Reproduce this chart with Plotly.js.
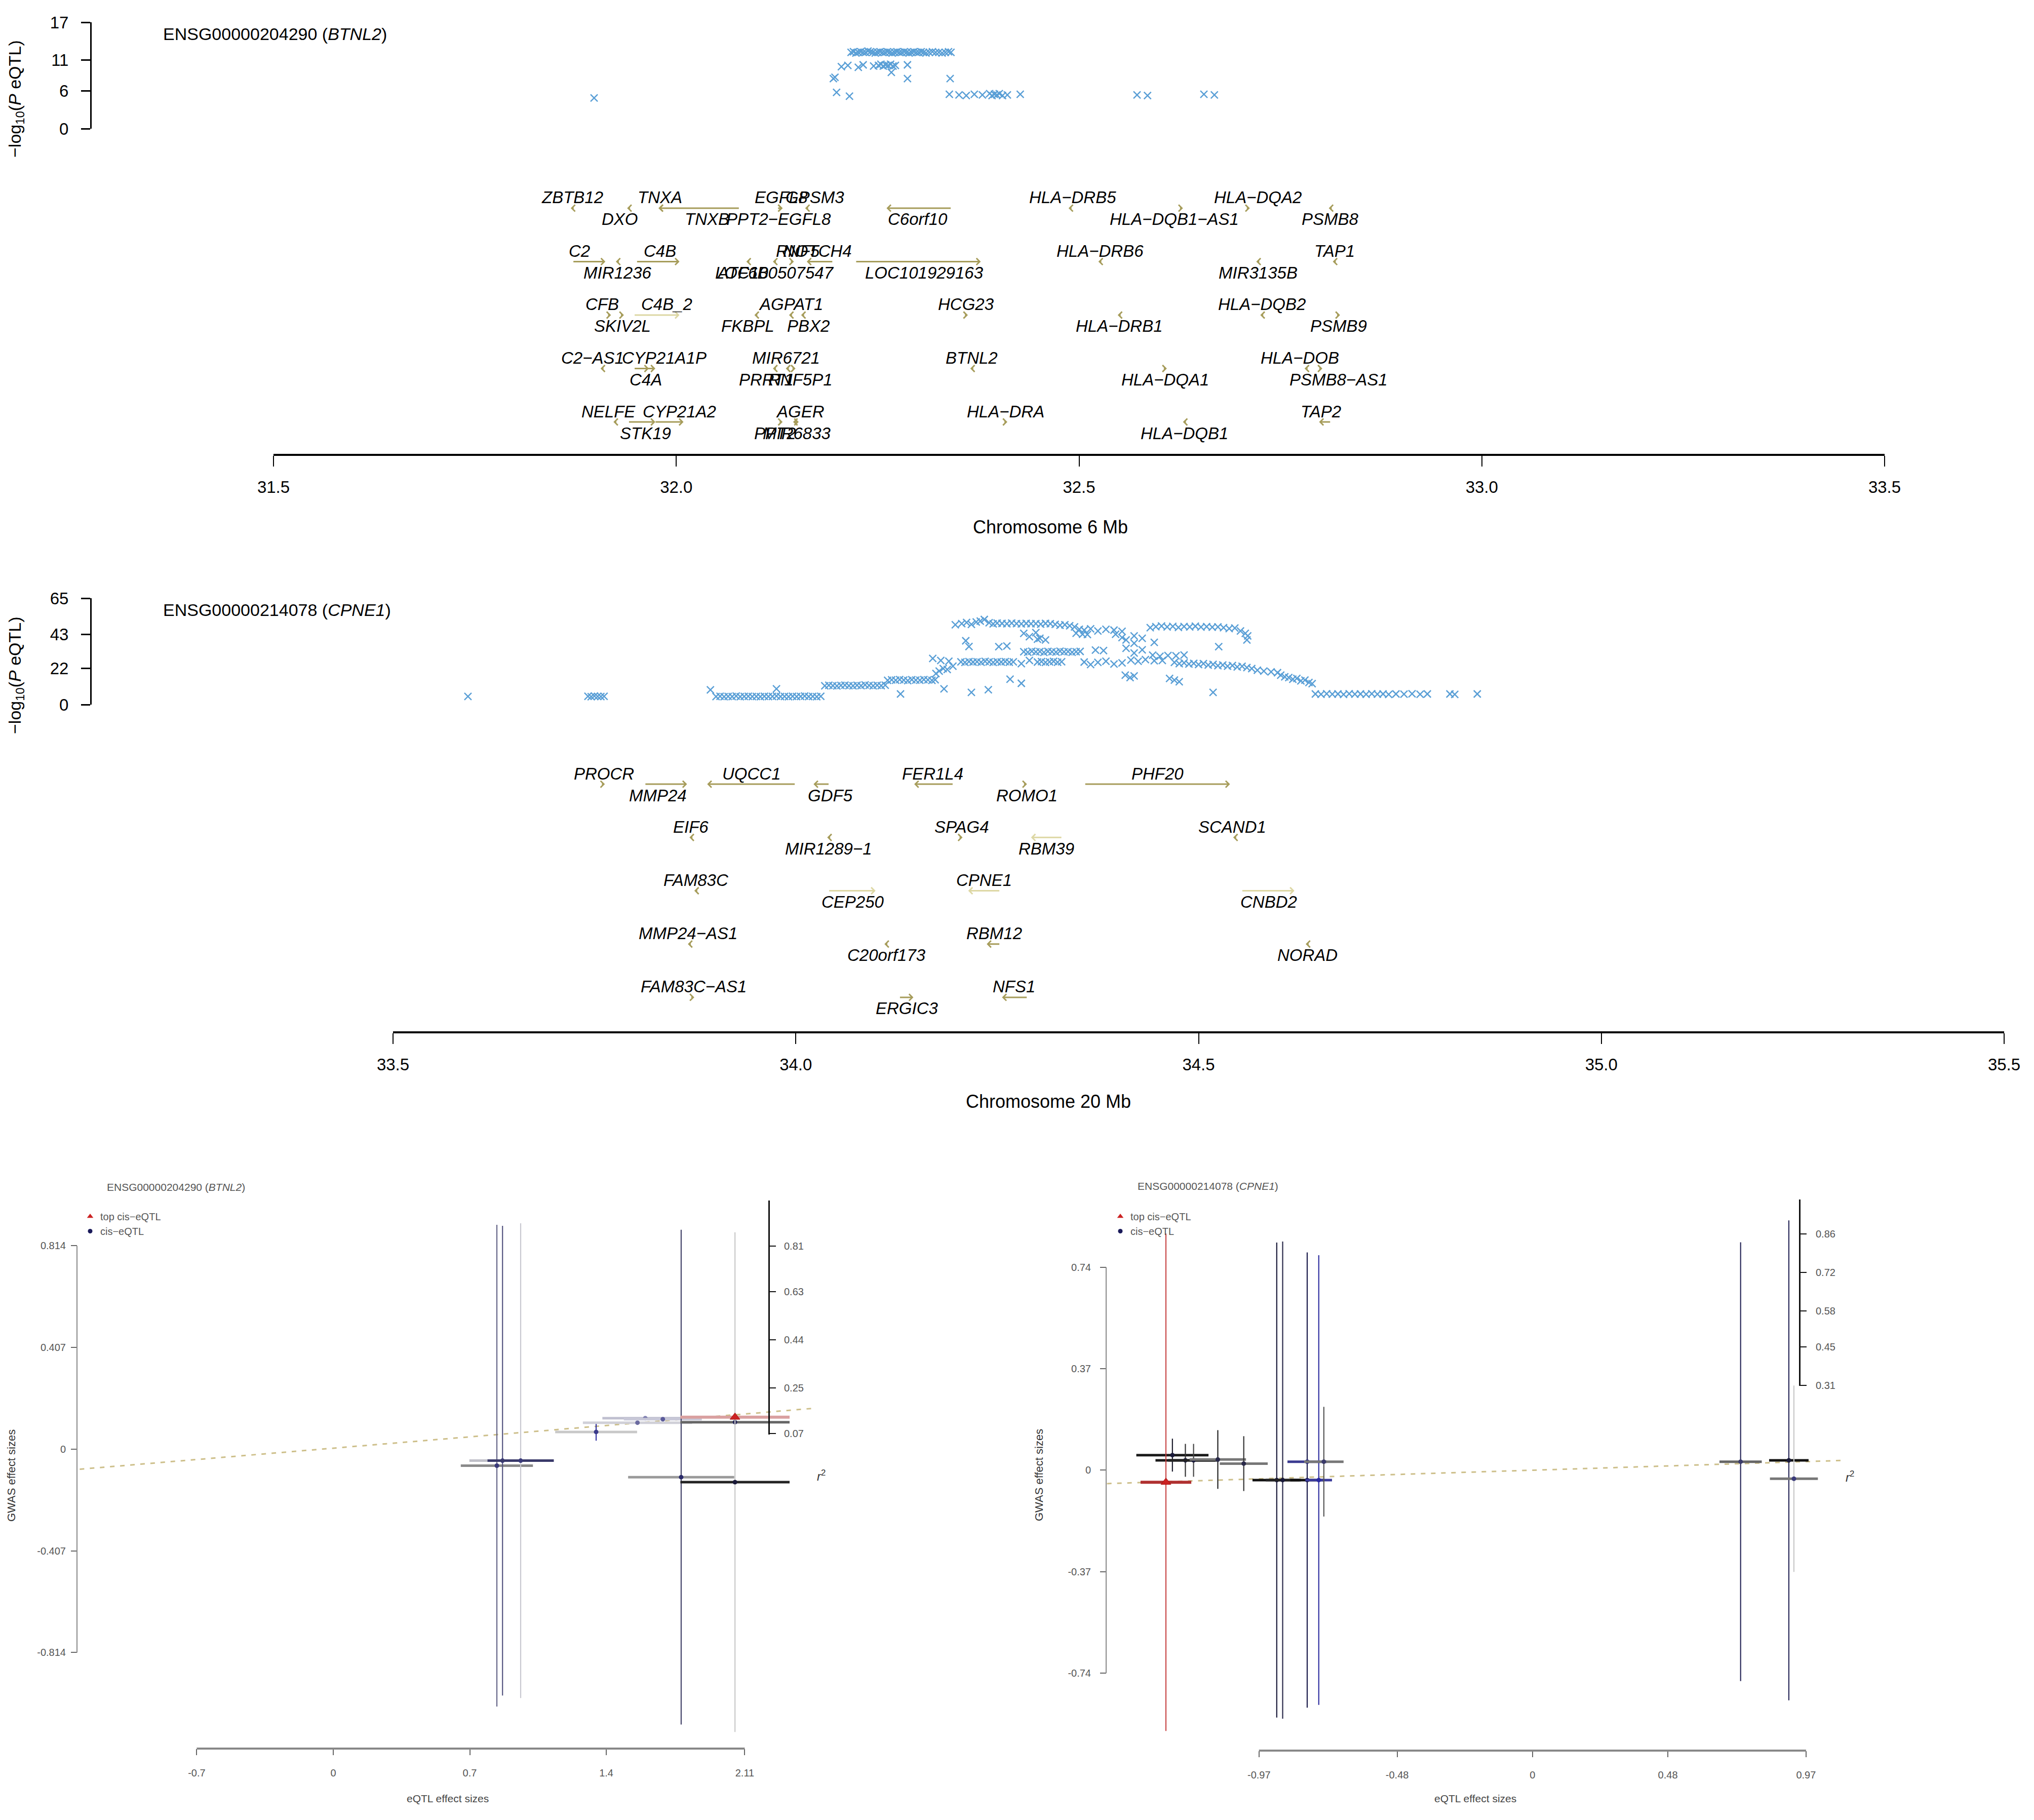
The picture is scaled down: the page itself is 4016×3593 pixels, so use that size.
<!DOCTYPE html>
<html><head><meta charset="utf-8">
<script src="https://cdn.plot.ly/plotly-3.0.1.min.js"></script>
<style>html,body{margin:0;padding:0;background:#fff;}#plot{width:4016px;height:3593px;}</style>
</head><body><div id="plot"></div>
<script>
// ================= DATA =================
// Panel 1: chr6, ENSG00000204290 (BTNL2) eQTL SNPs
const p1_gene_id = 'ENSG00000204290', p1_gene_sym = 'BTNL2';
const p1_mb = [31.898,
 32.217,32.220,32.223,32.226,32.229,32.232,32.235,32.238,32.241,32.244,32.247,32.250,32.253,32.256,32.259,32.262,32.265,32.268,32.271,32.274,32.277,32.280,32.283,32.286,32.289,32.292,32.295,32.298,32.301,32.304,32.307,32.310,32.314,32.318,32.322,32.326,32.330,32.334,32.338,32.341,
 32.205,32.213,32.226,32.232,32.245,32.251,32.254,32.257,32.260,32.263,32.266,32.269,32.272,32.287,
 32.267,
 32.195,32.197,32.287,32.340,
 32.199,32.215,
 32.339,32.351,32.360,32.370,32.380,32.389,32.392,32.395,32.398,32.401,32.405,32.411,32.427,
 32.572,32.585,32.655,32.668];
const p1_logp = [4.9,
 12.2,12.3,12.1,12.2,12.3,12.2,12.2,12.4,12.3,12.2,12.1,12.2,12.3,12.2,12.2,12.3,12.2,12.1,12.2,12.3,12.2,12.2,12.3,12.2,12.1,12.2,12.3,12.2,12.2,12.3,12.2,12.1,12.2,12.3,12.2,12.2,12.1,12.2,12.3,12.2,
 9.9,10.1,9.8,10.2,10.0,10.1,10.3,10.0,10.2,10.1,10.3,10.0,10.1,10.2,
 9.0,
 8.0,8.2,8.0,8.0,
 5.8,5.2,
 5.5,5.4,5.3,5.5,5.4,5.6,5.3,5.5,5.4,5.6,5.3,5.4,5.5,
 5.4,5.3,5.5,5.4];
const p1_yticks = [0, 6, 11, 17];
const p1_xticks = [31.5, 32.0, 32.5, 33.0, 33.5];
const p1_xticktext = ['31.5','32.0','32.5','33.0','33.5'];

// Panel 1 genes
const g1_name = ['ZBTB12','DXO','TNXA','TNXB','EGFL8','GPSM3','PPT2−EGFL8','C6orf10','HLA−DRB5','HLA−DQB1−AS1','HLA−DQA2','PSMB8',
 'C2','MIR1236','C4B','ATF6B','LOC100507547','RNF5','NOTCH4','LOC101929163','HLA−DRB6','MIR3135B','TAP1',
 'CFB','SKIV2L','C4B_2','FKBPL','AGPAT1','PBX2','HCG23','HLA−DRB1','HLA−DQB2','PSMB9',
 'C2−AS1','CYP21A1P','C4A','MIR6721','PRRT1','RNF5P1','BTNL2','HLA−DQA1','HLA−DOB','PSMB8−AS1',
 'NELFE','STK19','CYP21A2','AGER','PPT2','MIR6833','HLA−DRA','HLA−DQB1','TAP2'];
const g1_start = [31.869,31.939,31.978,31.978,32.128,32.160,32.126,32.261,32.487,32.625,32.708,32.810,
 31.872,31.925,31.951,32.087,32.120,32.142,32.162,32.223,32.524,32.720,32.815,
 31.915,31.931,31.948,32.097,32.140,32.155,32.358,32.548,32.725,32.820,
 31.906,31.962,31.948,32.120,32.136,32.144,32.365,32.605,32.780,32.798,
 31.922,31.941,31.974,32.148,32.128,32.145,32.407,32.629,32.798];
const g1_end = [31.873,31.943,31.982,32.078,32.132,32.164,32.132,32.341,32.491,32.629,32.712,32.814,
 31.912,31.929,32.004,32.091,32.124,32.146,32.194,32.378,32.528,32.724,32.819,
 31.919,31.935,32.004,32.101,32.144,32.159,32.362,32.552,32.729,32.824,
 31.910,31.974,31.966,32.124,32.140,32.148,32.369,32.609,32.784,32.802,
 31.926,31.974,32.009,32.152,32.132,32.149,32.411,32.633,32.812];
const g1_strand = ['-','-','-','-','+','-','+','-','-','+','+','-',
 '+','-','+','-','-','+','-','+','-','-','-',
 '+','+','+','-','-','-','+','-','-','+',
 '-','+','+','-','-','+','-','+','-','+',
 '-','+','+','+','+','-','+','-','-'];
const g1_row = [1,1,1,1,1,1,1,1,1,1,1,1, 2,2,2,2,2,2,2,2,2,2,2, 3,3,3,3,3,3,3,3,3,3, 4,4,4,4,4,4,4,4,4,4, 5,5,5,5,5,5,5,5,5];
const g1_side = ['a','b','a','b','a','a','b','b','a','b','a','b',
 'a','b','a','b','b','a','a','b','a','b','a',
 'a','b','a','b','a','b','a','b','a','b',
 'a','a','b','a','b','b','a','b','a','b',
 'a','b','a','a','b','b','a','b','a'];
const g1_labx = [31.871,31.930,31.980,32.038,32.130,32.172,32.127,32.300,32.492,32.618,32.722,32.812,
 31.880,31.927,31.980,32.082,32.122,32.151,32.175,32.308,32.526,32.722,32.817,
 31.908,31.933,31.988,32.089,32.142,32.164,32.360,32.550,32.727,32.822,
 31.896,31.985,31.962,32.136,32.112,32.154,32.367,32.607,32.774,32.822,
 31.916,31.962,32.004,32.154,32.123,32.150,32.409,32.631,32.800];

// Panel 2: chr20, ENSG00000214078 (CPNE1) eQTL SNPs
const p2_gene_id = 'ENSG00000214078', p2_gene_sym = 'CPNE1';
const p2_mb = [
 33.593,33.742,33.746,33.750,33.754,33.758,33.762,
 33.894,
 33.901,33.906,33.911,33.916,33.921,33.926,33.931,33.936,33.941,33.946,33.951,33.956,33.961,33.966,33.971,33.976,33.981,33.986,33.991,33.996,34.001,34.006,34.011,34.016,34.021,34.026,34.031,
 33.976,
 34.036,34.041,34.046,34.051,34.056,34.061,34.066,34.071,34.076,34.081,34.086,34.091,34.096,34.101,34.106,34.111,
 34.114,34.119,34.124,34.129,34.134,34.139,34.144,34.149,34.154,34.159,34.164,34.169,34.173,
 34.130,34.184,34.218,34.239,34.518,
 34.174,34.178,34.183,34.188,34.195,
 34.198,34.206,34.212,34.218,34.224,34.229,34.234,34.240,34.245,34.250,34.256,34.262,34.268,34.274,34.280,34.286,34.292,34.298,34.304,34.310,34.316,34.322,34.328,34.334,34.340,34.346,
 34.352,34.358,34.366,34.375,34.385,34.395,34.405,
 34.440,34.447,34.454,34.461,34.468,34.475,34.482,34.489,34.496,34.503,34.510,34.517,34.524,34.531,34.538,34.545,34.552,34.558,34.561,
 34.283,34.290,34.298,34.303,34.348,34.356,34.362,34.397,34.405,34.420,34.430,
 34.211,34.215,34.252,34.262,34.300,34.310,34.410,34.420,34.445,34.525,34.560,
 34.283,34.288,34.293,34.298,34.303,34.308,34.313,34.318,34.323,34.328,34.333,34.338,34.343,34.348,34.353,
 34.372,34.382,34.410,34.420,34.430,34.443,34.452,34.462,34.472,34.482,
 34.170,34.180,34.190,
 34.205,34.210,34.215,34.220,34.225,34.230,34.235,34.240,34.245,34.250,34.255,34.260,34.265,34.270,
 34.280,34.290,
 34.300,34.305,34.310,34.315,34.320,34.325,34.330,
 34.358,34.366,34.375,34.385,34.395,34.405,
 34.416,34.425,34.434,34.445,34.455,
 34.470,34.476,34.482,34.488,34.494,34.500,34.506,34.512,34.518,34.524,34.530,34.536,34.542,34.548,34.554,34.560,34.566,
 34.573,34.581,34.590,34.598,
 34.602,34.607,34.612,34.617,34.622,34.627,34.632,34.637,34.641,
 34.409,34.415,34.420,34.464,34.470,34.476,34.266,34.280,
 34.645,34.652,34.659,34.666,34.673,34.680,34.687,34.694,34.701,34.708,34.715,34.722,34.729,34.736,34.745,34.755,34.765,34.775,34.784,34.812,34.818,34.846];
const p2_logp = [
 5.0,5.1,4.8,5.2,5.0,4.9,5.1,
 9.0,
 4.9,5.1,4.8,5.0,4.9,5.2,4.8,5.0,5.1,4.9,5.0,4.8,5.1,4.9,5.0,5.2,4.9,5.0,4.8,5.1,4.9,5.0,5.2,4.9,5.0,4.8,5.1,
 9.6,
 11.5,11.8,11.6,11.4,11.7,11.9,11.6,11.5,11.8,11.6,12.0,11.7,11.5,11.8,11.6,11.9,
 14.8,15.1,14.9,15.3,15.0,14.7,15.2,15.0,14.9,15.3,15.1,14.8,15.2,
 6.5,9.6,7.5,9.1,7.5,
 19.0,20.5,22.0,21.5,23.5,
 48.8,49.5,50.2,49.0,50.5,51.0,52.0,50.0,49.3,49.8,49.6,49.4,49.8,49.5,49.3,49.6,49.4,49.5,49.2,49.6,49.4,49.0,48.5,48.8,48.2,47.5,
 46.0,45.5,46.3,45.0,46.0,45.5,44.8,
 47.0,47.6,48.0,47.5,47.8,47.2,47.7,47.5,47.9,47.4,47.6,47.3,47.5,47.0,46.5,46.8,45.0,43.5,42.0,
 43.5,41.5,44.0,40.5,43.6,43.0,42.8,43.0,41.0,42.0,40.5,
 39.0,35.5,35.4,35.8,40.0,39.5,39.5,37.5,38.0,35.4,39.5,
 32.3,32.0,32.6,32.2,32.4,31.9,32.5,32.3,32.1,32.6,32.2,32.4,32.0,32.3,32.5,
 33.3,33.0,34.4,31.5,33.5,30.2,29.5,30.0,29.8,30.3,
 28.2,27.0,26.5,
 26.1,25.8,26.3,26.0,26.2,25.9,26.4,26.1,25.8,26.2,26.0,26.3,25.9,26.1,
 25.0,27.0,
 26.0,26.3,25.8,26.1,26.4,25.9,26.2,
 26.0,24.5,25.8,26.5,24.8,25.5,
 27.2,26.5,27.5,26.8,27.0,
 25.8,25.0,25.5,24.8,25.2,24.5,25.0,24.2,24.6,23.8,24.2,23.5,23.9,23.0,23.4,22.6,22.0,
 21.0,20.5,20.0,19.5,
 18.0,17.0,16.5,15.5,16.0,14.5,15.0,13.5,12.8,
 18.0,16.5,17.5,16.0,15.0,14.0,15.5,13.0,
 6.5,6.3,6.6,6.4,6.5,6.2,6.6,6.4,6.5,6.3,6.6,6.4,6.5,6.2,6.5,6.4,6.6,6.3,6.5,6.5,6.2,6.5];
const p2_yticks = [0, 22, 43, 65];
const p2_xticks = [33.5, 34.0, 34.5, 35.0, 35.5];
const p2_xticktext = ['33.5','34.0','34.5','35.0','35.5'];

// Panel 2 genes
const g2_name = ['PROCR','MMP24','UQCC1','GDF5','FER1L4','ROMO1','PHF20',
 'EIF6','MIR1289−1','SPAG4','RBM39','SCAND1',
 'FAM83C','CEP250','CPNE1','CNBD2',
 'MMP24−AS1','C20orf173','RBM12','NORAD',
 'FAM83C−AS1','ERGIC3','NFS1'];
const g2_start = [33.759,33.813,33.890,34.022,34.147,34.283,34.359,
 33.868,34.039,34.203,34.292,34.543,
 33.874,34.041,34.214,34.554,
 33.866,34.110,34.237,34.633,
 33.870,34.129,34.256];
const g2_end = [33.763,33.865,33.999,34.041,34.195,34.287,34.539,
 33.872,34.043,34.207,34.330,34.547,
 33.878,34.099,34.253,34.619,
 33.870,34.114,34.253,34.637,
 33.874,34.146,34.287];
const g2_strand = ['+','+','-','-','-','+','+', '-','-','+','-','-', '-','+','-','+', '-','-','-','-', '+','+','-'];
const g2_row = [1,1,1,1,1,1,1, 2,2,2,2,2, 3,3,3,3, 4,4,4,4, 5,5,5];
const g2_side = ['a','b','a','b','a','b','a', 'a','b','a','b','a', 'a','b','a','b', 'a','b','a','b', 'a','b','a'];
const g2_labx = [33.762,33.829,33.945,34.043,34.170,34.287,34.449,
 33.870,34.041,34.206,34.311,34.542,
 33.876,34.071,34.234,34.587,
 33.866,34.113,34.246,34.635,
 33.873,34.138,34.271];

// Bottom-left: BTNL2 effect sizes (eQTL vs GWAS)
const bl_eqtl    = [0.839, 0.868, 0.961, 1.348, 1.560, 1.600, 1.690, 1.784, 2.060, 2.060];
const bl_eqtl_se = [0.185, 0.170, 0.170, 0.210, 0.280, 0.220, 0.200, 0.272, 0.280, 0.280];
const bl_gwas    = [-0.066,-0.046,-0.046, 0.069, 0.106, 0.124, 0.120,-0.112, 0.108,-0.132];
const bl_gwas_se = [0.964, 0.940, 0.950, 0.035, 0, 0, 0, 0.990, 0, 1.000];
const bl_top = {eqtl: 2.060, eqtl_se: 0.280, gwas: 0.128, gwas_se: 0};
const bl_fit = {slope: 0.0648, intercept: 0.004, xmin: -1.30, xmax: 2.47};
const bl_xticks = [-0.7, 0, 0.7, 1.4, 2.11];
const bl_yticks = [-0.814, -0.407, 0, 0.407, 0.814];
const bl_r2ticks = [0.07, 0.25, 0.44, 0.63, 0.81];

// Bottom-right: CPNE1 effect sizes
const br_eqtl    = [-1.277,-1.231,-1.202,-1.116,-1.024,-0.907,-0.886,-0.799,-0.758,-0.799,-0.740, 0.738, 0.909, 0.927];
const br_eqtl_se = [0.128, 0.106, 0.090, 0.100, 0.085, 0.086, 0.060, 0.060, 0.047, 0.070, 0.070, 0.075, 0.070, 0.085];
const br_gwas    = [0.055, 0.036, 0.036, 0.039, 0.024,-0.036,-0.036,-0.036,-0.036, 0.031, 0.031, 0.031, 0.036,-0.031];
const br_gwas_se = [0.060, 0.060, 0.060, 0.107, 0.100, 0.866, 0.870, 0.830, 0.820, 0, 0.200, 0.800, 0.875, 0.340];
const br_top = {eqtl: -1.300, eqtl_se: 0.090, gwas: -0.044, gwas_se: 0.907};
const br_fit = {slope: 0.0324, intercept: 0.0, xmin: -1.509, xmax: 1.112};
const br_xticks = [-0.97, -0.48, 0, 0.48, 0.97];
const br_yticks = [-0.74, -0.37, 0, 0.37, 0.74];
const br_r2ticks = [0.31, 0.45, 0.58, 0.72, 0.86];

// ================= STYLE =================
const W = 4016, H = 3593;
const PX = p => p / W, PY = p => 1 - p / H;
const FONT = 'Liberation Sans, Arial, Helvetica, sans-serif';
const SNP_COL = '#5a9fd6';
const GENE_COL = '#a69c5a', GENE_PALE = '#ddd7a4';
const paleGenes = ['C4B_2', 'CEP250', 'CNBD2', 'RBM39', 'CPNE1'];
const bl_hcol = ['#8a8a8a','#c0c0c8','#3a3a6a','#c8c8c8','#d0d0d8','#c0c0d0','#c8c8d8','#9a9a9a','#666666','#222222'];
const bl_vcol = ['#666688','#555580','#c8c8d0','#3030a0','#888','#888','#888','#44446a','#888','#c8c8c8'];
const bl_mcol = ['#3a3a7a','#3a3a7a','#3a3a7a','#3a3a8a','#6a6aa0','#8080b0','#5a5a9a','#2a2a6a','#2a2a5a','#1a1a3a'];
const br_hcol = ['#1a1a1a','#1a1a1a','#222222','#777777','#777777','#111111','#222222','#111111','#3a3a9a','#3a3a90','#777777','#666666','#111111','#777777'];
const br_vcol = ['#1a1a2a','#333333','#444444','#222222','#333333','#1a1a3a','#2a2a4a','#1a1a4a','#3030a0','#333','#555555','#2a2a5a','#2a2a5a','#c8c8c8'];
const br_mcol = ['#1a1a3a','#1a1a3a','#1a1a3a','#2a2a4a','#2a2a4a','#1a1a3a','#1a1a3a','#1a1a4a','#2a2aa0','#2a2a80','#3a3a6a','#3a3a6a','#1a1a3a','#3a3a7a'];

// ================= BUILD =================
const traces = [];
const annotations = [];
const shapes = [];

traces.push({type:'scatter', mode:'markers', x:p1_mb, y:p1_logp, xaxis:'x', yaxis:'y', hoverinfo:'skip', showlegend:false,
  marker:{symbol:'x-thin-open', size:14, color:SNP_COL, line:{width:2.5, color:SNP_COL}}});
traces.push({type:'scatter', mode:'markers', x:p2_mb, y:p2_logp, xaxis:'x2', yaxis:'y3', hoverinfo:'skip', showlegend:false,
  marker:{symbol:'x-thin-open', size:14, color:SNP_COL, line:{width:2.5, color:SNP_COL}}});
traces.push({type:'scatter', x:[], y:[], xaxis:'x', yaxis:'y2', showlegend:false});
traces.push({type:'scatter', x:[], y:[], xaxis:'x2', yaxis:'y4', showlegend:false});

function geneTrack(name, start, end, strand, row, side, labx, xr, yr){
  for (let i = 0; i < name.length; i++){
    const plus = strand[i] === '+';
    const col = paleGenes.includes(name[i]) ? GENE_PALE : GENE_COL;
    annotations.push({xref:xr, yref:yr, axref:xr, ayref:yr,
      x: plus ? end[i] : start[i], y: row[i], ax: plus ? start[i] : end[i], ay: row[i],
      text:' ', font:{size:1}, borderpad:0, showarrow:true, arrowhead:4, arrowsize:0.85, arrowwidth:3, arrowcolor:col});
    annotations.push({xref:xr, yref:yr, x: labx[i], y: row[i], yshift: side[i] === 'a' ? 21 : -22,
      text:'<i>' + name[i] + '</i>', showarrow:false, xanchor:'center', yanchor:'middle',
      font:{family:FONT, size:33, color:'#000'}});
  }
}
geneTrack(g1_name, g1_start, g1_end, g1_strand, g1_row, g1_side, g1_labx, 'x', 'y2');
geneTrack(g2_name, g2_start, g2_end, g2_strand, g2_row, g2_side, g2_labx, 'x2', 'y4');

function forest(eq, eqse, gw, gwse, hcol, vcol, mcol, top, fit, xa, ya){
  traces.push({type:'scatter', mode:'lines', x:[fit.xmin, fit.xmax],
    y:[fit.intercept + fit.slope*fit.xmin, fit.intercept + fit.slope*fit.xmax], xaxis:xa, yaxis:ya,
    line:{color:'#cdbf8a', width:3, dash:'9px,11px'}, hoverinfo:'skip', showlegend:false});
  for (let i = 0; i < eq.length; i++){
    traces.push({type:'scatter', mode:'markers', x:[eq[i]], y:[gw[i]], xaxis:xa, yaxis:ya, hoverinfo:'skip', showlegend:false,
      error_x:{type:'data', array:[eqse[i]], visible:true, color:hcol[i], thickness:5, width:0},
      error_y:{type:'data', array:[gwse[i]], visible:gwse[i] > 0, color:vcol[i], thickness:2.2, width:0},
      marker:{symbol:'circle', size:9, color:mcol[i]}});
  }
  traces.push({type:'scatter', mode:'markers', x:[top.eqtl], y:[top.gwas], xaxis:xa, yaxis:ya, hoverinfo:'skip', showlegend:false,
    error_x:{type:'data', array:[top.eqtl_se], visible:true, color: xa === 'x3' ? '#d9a0a0' : '#b03030', thickness:6, width:0},
    error_y:{type:'data', array:[top.gwas_se], visible: top.gwas_se > 0, color:'#c43a3a', thickness:2, width:0},
    marker:{symbol:'triangle-up', size:17, color:'#cc2222', line:{color:'#aa1111', width:1}}});
}
forest(bl_eqtl, bl_eqtl_se, bl_gwas, bl_gwas_se, bl_hcol, bl_vcol, bl_mcol, bl_top, bl_fit, 'x3', 'y5');
forest(br_eqtl, br_eqtl_se, br_gwas, br_gwas_se, br_hcol, br_vcol, br_mcol, br_top, br_fit, 'x4', 'y7');
traces.push({type:'scatter', x:[], y:[], xaxis:'x3', yaxis:'y6', showlegend:false});
traces.push({type:'scatter', x:[], y:[], xaxis:'x4', yaxis:'y8', showlegend:false});
[['legend','x3','y5'],['legend2','x4','y7']].forEach(([lg, xa, ya]) => {
  traces.push({type:'scatter', mode:'markers', x:[null], y:[null], xaxis:xa, yaxis:ya, name:'top cis−eQTL', legend:lg,
    marker:{symbol:'triangle-up', size:11, color:'#cc2222'}, showlegend:true});
  traces.push({type:'scatter', mode:'markers', x:[null], y:[null], xaxis:xa, yaxis:ya, name:'cis−eQTL', legend:lg,
    marker:{symbol:'circle', size:9, color:'#1a1a5a'}, showlegend:true});
});

shapes.push({type:'line', xref:'x3', yref:'paper', x0:bl_xticks[0], x1:bl_xticks[bl_xticks.length-1], y0:PY(3452), y1:PY(3452), line:{color:'#888', width:4}});
shapes.push({type:'line', xref:'x4', yref:'paper', x0:br_xticks[0], x1:br_xticks[br_xticks.length-1], y0:PY(3456), y1:PY(3456), line:{color:'#888', width:4}});
shapes.push({type:'line', xref:'paper', yref:'y5', x0:PX(152), x1:PX(152), y0:bl_yticks[0], y1:bl_yticks[bl_yticks.length-1], line:{color:'#888', width:2}});
shapes.push({type:'line', xref:'paper', yref:'y7', x0:PX(2184), x1:PX(2184), y0:br_yticks[0], y1:br_yticks[br_yticks.length-1], line:{color:'#888', width:2}});

function txt(x, y, text, size, opts){ annotations.push(Object.assign({xref:'paper', yref:'paper', x:PX(x), y:PY(y), text:text, showarrow:false,
  xanchor:'center', yanchor:'middle', font:{family:FONT, size:size, color:'#000'}}, opts || {})); }
txt(320, 67, p1_gene_id + ' (<i>' + p1_gene_sym + '</i>)', 34, {xanchor:'left'});
txt(320, 1204, p2_gene_id + ' (<i>' + p2_gene_sym + '</i>)', 34, {xanchor:'left'});
txt(31, 195, '−log<sub>10</sub>(<i>P</i> eQTL)', 34, {textangle:-90});
txt(31, 1333, '−log<sub>10</sub>(<i>P</i> eQTL)', 34, {textangle:-90});
txt(2074, 1040, 'Chromosome 6 Mb', 36);
txt(2070, 2174, 'Chromosome 20 Mb', 36);
txt(209, 2343, p1_gene_id + ' (<i>' + p1_gene_sym + '</i>)', 21, {xanchor:'left', font:{family:FONT, size:21, color:'#555'}});
txt(2244, 2341, p2_gene_id + ' (<i>' + p2_gene_sym + '</i>)', 21, {xanchor:'left', font:{family:FONT, size:21, color:'#555'}});
txt(22, 2913, 'GWAS effect sizes', 22, {textangle:-90, font:{family:FONT, size:22, color:'#333'}});
txt(2051, 2912, 'GWAS effect sizes', 22, {textangle:-90, font:{family:FONT, size:22, color:'#333'}});
txt(884, 3550, 'eQTL effect sizes', 21, {font:{family:FONT, size:21, color:'#444'}});
txt(2913, 3550, 'eQTL effect sizes', 21, {font:{family:FONT, size:21, color:'#444'}});
txt(1621, 2913, '<i>r</i><sup>2</sup>', 24, {font:{family:FONT, size:24, color:'#333'}});
txt(3652, 2915, '<i>r</i><sup>2</sup>', 24, {font:{family:FONT, size:24, color:'#333'}});

const big = {showgrid:false, zeroline:false, ticks:'outside', tickcolor:'#000', linecolor:'#000', tickfont:{family:FONT, size:33, color:'#000'}, fixedrange:true};
const small = {showgrid:false, zeroline:false, ticks:'outside', tickcolor:'#666', tickwidth:2, ticklen:12, tickfont:{family:FONT, size:20, color:'#555'}, fixedrange:true, showline:false};
const fmt = a => a.map(v => String(v));

const layout = {
  width:W, height:H, margin:{l:0, r:0, t:0, b:0}, paper_bgcolor:'#fff', plot_bgcolor:'rgba(0,0,0,0)',
  font:{family:FONT}, showlegend:true,
  xaxis: Object.assign({}, big, {domain:[PX(540), PX(3721)], range:[31.5, 33.5], anchor:'y2', showline:true, linewidth:4,
    ticklen:21, tickwidth:2, tickvals:p1_xticks, ticktext:p1_xticktext, ticklabelstandoff:12}),
  yaxis: Object.assign({}, big, {domain:[PY(254), PY(44)], range:[0, 17], anchor:'free', position:PX(179), showline:true, linewidth:3,
    ticklen:18, tickwidth:3, tickvals:p1_yticks, ticklabelstandoff:18}),
  yaxis2: {domain:[PY(896), PY(360)], range:[5.597, 0.517], visible:false, anchor:'x', fixedrange:true},
  xaxis2: Object.assign({}, big, {domain:[PX(776), PX(3957)], range:[33.5, 35.5], anchor:'y4', showline:true, linewidth:4,
    ticklen:21, tickwidth:2, tickvals:p2_xticks, ticktext:p2_xticktext, ticklabelstandoff:12}),
  yaxis3: Object.assign({}, big, {domain:[PY(1391), PY(1181)], range:[0, 65], anchor:'free', position:PX(179), showline:true, linewidth:3,
    ticklen:18, tickwidth:3, tickvals:p2_yticks, ticklabelstandoff:18}),
  yaxis4: {domain:[PY(2036), PY(1497)], range:[5.637, 0.515], visible:false, anchor:'x2', fixedrange:true},
  xaxis3: Object.assign({}, small, {domain:[PX(152), PX(1626)], range:[-1.314, 2.514], anchor:'free', position:PY(3452),
    tickvals:bl_xticks, ticktext:fmt(bl_xticks), ticklabelstandoff:18}),
  yaxis5: Object.assign({}, small, {domain:[PY(3440), PY(2380)], range:[-1.174, 0.975], anchor:'free', position:PX(152),
    tickvals:bl_yticks, ticktext:fmt(bl_yticks), ticklabelstandoff:6}),
  yaxis6: Object.assign({}, small, {domain:[PY(2832), PY(2370)], range:[0.066, 0.99], anchor:'free', position:PX(1518), side:'right',
    showline:true, linecolor:'#111', linewidth:3, tickcolor:'#111', tickvals:bl_r2ticks, ticktext:fmt(bl_r2ticks), ticklabelstandoff:12}),
  xaxis4: Object.assign({}, small, {domain:[PX(2184), PX(3660)], range:[-1.512, 1.139], anchor:'free', position:PY(3456),
    tickvals:br_xticks, ticktext:fmt(br_xticks), ticklabelstandoff:18}),
  yaxis7: Object.assign({}, small, {domain:[PY(3440), PY(2380)], range:[-0.993, 0.965], anchor:'free', position:PX(2184),
    tickvals:br_yticks, ticktext:fmt(br_yticks), ticklabelstandoff:14}),
  yaxis8: Object.assign({}, small, {domain:[PY(2736), PY(2368)], range:[0.308, 0.985], anchor:'free', position:PX(3553), side:'right',
    showline:true, linecolor:'#111', linewidth:3, tickcolor:'#111', tickvals:br_r2ticks, ticktext:fmt(br_r2ticks), ticklabelstandoff:14}),
  legend: {x:PX(158), y:PY(2382), xanchor:'left', yanchor:'top', bgcolor:'rgba(0,0,0,0)', borderwidth:0,
    font:{family:FONT, size:20, color:'#555'}, itemwidth:30, tracegroupgap:0, traceorder:'normal'},
  legend2: {x:PX(2192), y:PY(2382), xanchor:'left', yanchor:'top', bgcolor:'rgba(0,0,0,0)', borderwidth:0,
    font:{family:FONT, size:20, color:'#555'}, itemwidth:30, tracegroupgap:0, traceorder:'normal'},
  annotations: annotations,
  shapes: shapes
};

Plotly.newPlot('plot', traces, layout, {staticPlot:true, displayModeBar:false});
</script>
</body></html>
